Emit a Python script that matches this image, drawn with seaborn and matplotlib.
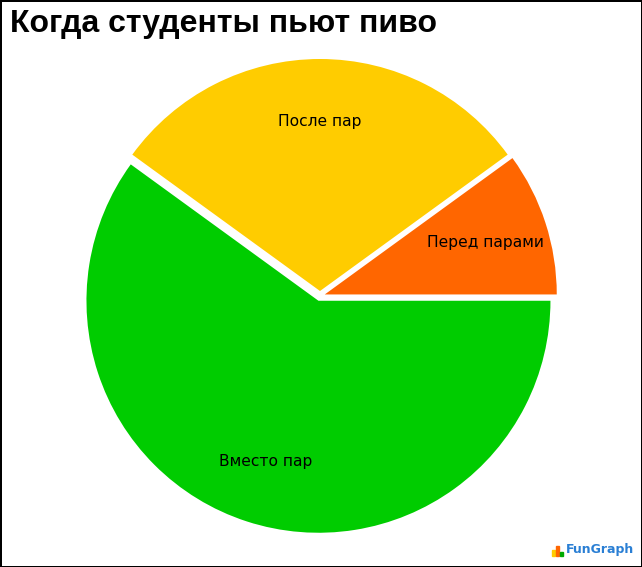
import matplotlib
matplotlib.use("Agg")
import matplotlib.pyplot as plt
from matplotlib.patches import Rectangle
import seaborn as sns

categories = ["Перед парами", "После пар", "Вместо пар"]
values = [10, 30, 60]
colors = ["#FF6600", "#FFCC00", "#00CC00"]
title = "Когда студенты пьют пиво"

sns.set_theme(style="white")
plt.rcParams["font.family"] = ["DejaVu Sans"]

W, H = 642, 567
fig = plt.figure(figsize=(W / 100, H / 100), dpi=100)
fig.patch.set_facecolor("white")
fig.patch.set_edgecolor("black")
fig.patch.set_linewidth(1.0)

R = 232.0
cx, cy = 320.0, 296.0
L = 1.1
S = 2 * L * R
ax = fig.add_axes([(cx - S / 2) / W, (H - cy - S / 2) / H, S / W, S / H])

explode = [5 / R] * len(values)
wedges, texts = ax.pie(values, labels=categories, colors=sns.color_palette(colors),
                       startangle=0, counterclock=True, explode=explode,
                       labeldistance=0.73, textprops={"fontsize": 11.2, "color": "black"},
                       wedgeprops={"linewidth": 0})
for t in texts:
    t.set_ha("center")
    t.set_va("center")
ax.set_xlim(-L, L)
ax.set_ylim(-L, L)
ax.set_aspect("equal")
ax.axis("off")

fig.text(10 / W, 1 - 24 / H, title, fontsize=23, fontweight="bold",
         family=["Liberation Sans", "DejaVu Sans"], ha="left", va="center", color="black")

# FunGraph logo
bars = [("#FFCC00", 552, 6), ("#FF6600", 556, 10), ("#00AA00", 560, 4)]
for c, x, h in bars:
    fig.add_artist(Rectangle((x / W, (H - 556) / H), 3 / W, h / H, color=c,
                             transform=fig.transFigure))
fig.text(566 / W, 1 - 550 / H, "FunGraph", fontsize=9, fontweight="bold",
         color="#2A7FD4", ha="left", va="center")

fig.savefig("out.png", dpi=100)
